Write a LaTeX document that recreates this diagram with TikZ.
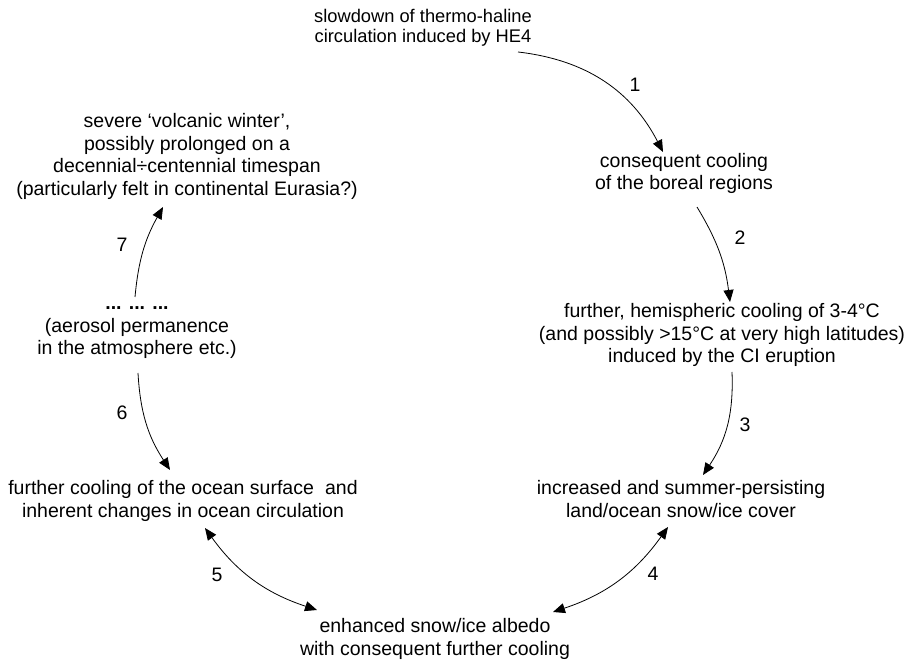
\documentclass[tikz,border=0pt]{standalone}
\usepackage{fontspec}
\setmainfont{Liberation Sans}
\usetikzlibrary{arrows.meta}

\begin{document}
\begin{tikzpicture}[x=1pt,y=1pt,
  link/.style={black,line width=0.8pt,-{Triangle[length=12pt,width=10pt]}},
  both/.style={black,line width=0.8pt,{Triangle[length=12pt,width=10pt]}-{Triangle[length=12pt,width=10pt]}}]
\tikzstyle{every node}+=[inner sep=0pt,align=center,font=\fontsize{19.5}{22.5}\selectfont]
\useasboundingbox (0,0) rectangle (909,661);
% the seven states of the loop
\node (hei) at (423,633) [font=\fontsize{18.3}{20.5}\selectfont] {slowdown of thermo-haline\\circulation induced by HE4};
\node (boreal) at (684,487.5) {consequent cooling\\of the boreal regions};
\node (erupt) at (722,326) {further, hemispheric cooling of 3-4°C\\(and possibly >15°C at very high latitudes)\\induced by the CI eruption};
\node (cover) at (681,162) {increased and summer-persisting\\land/ocean snow/ice cover};
\node (albedo) at (435,22) {enhanced snow/ice albedo\\with consequent further cooling};
\node (ocean) at (183,160) {further cooling of the ocean surface\hspace{0.3em} and\\inherent changes in ocean circulation};
\node (aerosol) at (137,328) {\textbf{... ... ...}\\(aerosol permanence\\in the atmosphere etc.)};
\node (winter) at (187,504.5) {severe ‘volcanic winter’,\\possibly prolonged on a\\decennial÷centennial timespan\\(particularly felt in continental Eurasia?)};
% step numbers
\node (n1) at (635,576) {1};
\node (n2) at (740,423) {2};
\node (n3) at (745,236) {3};
\node (n4) at (653,87) {4};
\node (n5) at (217,86) {5};
\node (n6) at (122,248) {6};
\node (n7) at (122,416) {7};
% connectors
\draw [link] ([shift={(95,-24)}]hei.center) to[bend left=28] ([shift={(-21,21.5)}]boreal.center);
\draw [link] ([shift={(13,-33.5)}]boreal.center) to[bend left=12] ([shift={(8,33)}]erupt.center);
\draw [link] ([shift={(10,-37)}]erupt.center) to[bend left=18] ([shift={(22,24)}]cover.center);
\draw [both] ([shift={(-13,-28)}]cover.center) to[bend left=18] ([shift={(118,27)}]albedo.center);
\draw [both] ([shift={(22,-27)}]ocean.center) to[bend right=18] ([shift={(-118,29)}]albedo.center);
\draw [link] ([shift={(1,-40)}]aerosol.center) to[bend right=15] ([shift={(-13,31)}]ocean.center);
\draw [link] ([shift={(-2,36)}]aerosol.center) to[bend left=12] ([shift={(-24,-50.5)}]winter.center);
\end{tikzpicture}
\end{document}
